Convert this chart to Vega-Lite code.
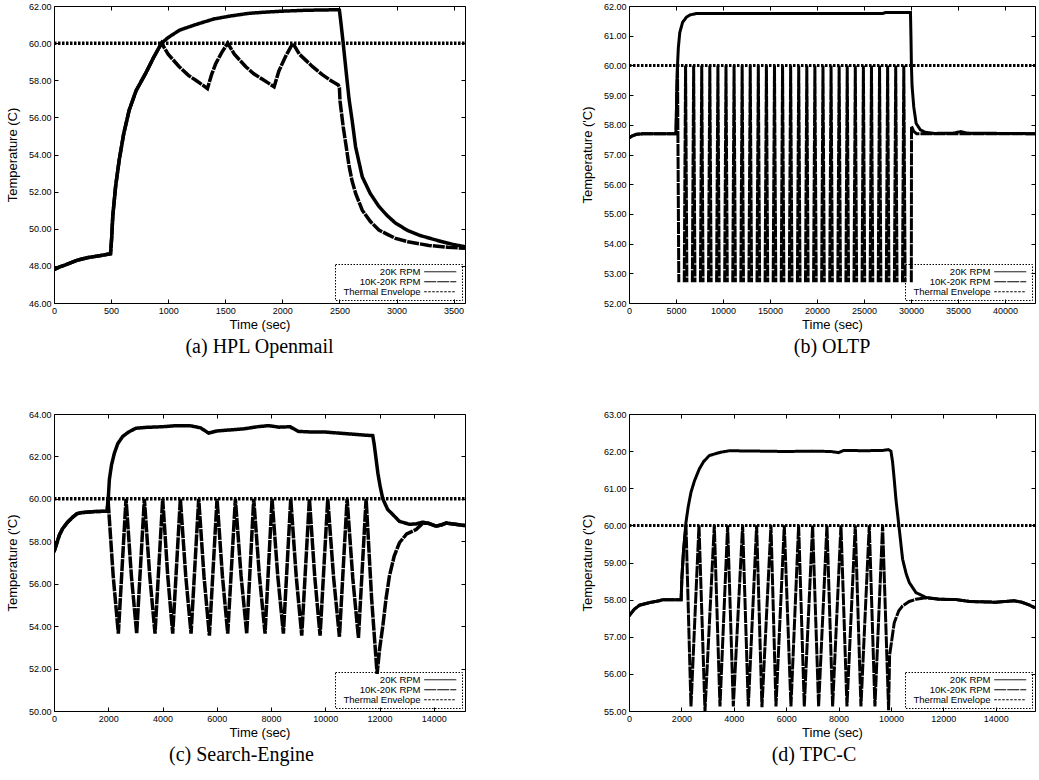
{
"$schema": "https://vega.github.io/schema/vega-lite/v6.json",
"background": "white",
"padding": {"left": 5, "top": 1, "right": 0, "bottom": 0},
"columns": 2,
"spacing": {"row": 111, "column": 164},
"bounds": "flush",
"resolve": {"scale": {"strokeDash": "independent"}, "legend": {"strokeDash": "independent"}},
"config": {
  "view": {"stroke": "black", "strokeWidth": 1},
  "font": "Liberation Sans",
  "axis": {"labelFont": "Liberation Sans", "labelFontSize": 9, "labelColor": "black", "titleFont": "Liberation Sans", "titleFontSize": 13, "titleFontWeight": "normal", "titleColor": "black", "grid": false, "domain": false, "ticks": true, "tickColor": "black", "tickSize": -4, "tickWidth": 1, "labelPadding": 7, "labelFlush": false, "labelOverlap": false},
  "axisX": {"titlePadding": 3},
  "axisY": {"titlePadding": 9},
  "legend": {"orient": "bottom-right", "offset": 3, "labelFont": "Liberation Sans", "labelFontSize": 9.5, "labelColor": "black", "labelAlign": "right", "labelOffset": -24.5, "symbolOffset": 97.5, "symbolStrokeWidth": 1, "symbolStrokeColor": "black", "rowPadding": -2, "strokeColor": "black", "strokeDash": [1.5, 1.5], "padding": 3},
  "title": {"font": "Liberation Serif", "fontSize": 20, "fontWeight": "normal", "orient": "bottom", "color": "black", "offset": 6}
},
"datasets": {
"a": [
{"t":0,"v":47.8,"s":"20K RPM"},{"t":50,"v":47.95,"s":"20K RPM"},{"t":100,"v":48.05,"s":"20K RPM"},{"t":200,"v":48.3,"s":"20K RPM"},{"t":300,"v":48.45,"s":"20K RPM"},{"t":400,"v":48.55,"s":"20K RPM"},{"t":495,"v":48.65,"s":"20K RPM"},{"t":505,"v":49.5,"s":"20K RPM"},{"t":515,"v":50.7,"s":"20K RPM"},{"t":540,"v":52.3,"s":"20K RPM"},{"t":571,"v":53.7,"s":"20K RPM"},{"t":610,"v":55.1,"s":"20K RPM"},{"t":659,"v":56.4,"s":"20K RPM"},{"t":720,"v":57.45,"s":"20K RPM"},{"t":805,"v":58.4,"s":"20K RPM"},{"t":870,"v":59.2,"s":"20K RPM"},{"t":942,"v":60.0,"s":"20K RPM"},{"t":1000,"v":60.3,"s":"20K RPM"},{"t":1100,"v":60.7,"s":"20K RPM"},{"t":1242,"v":61.0,"s":"20K RPM"},{"t":1400,"v":61.3,"s":"20K RPM"},{"t":1534,"v":61.45,"s":"20K RPM"},{"t":1700,"v":61.6,"s":"20K RPM"},{"t":1826,"v":61.66,"s":"20K RPM"},{"t":2000,"v":61.72,"s":"20K RPM"},{"t":2200,"v":61.77,"s":"20K RPM"},{"t":2490,"v":61.8,"s":"20K RPM"},{"t":2500,"v":61.78,"s":"20K RPM"},{"t":2515,"v":61.0,"s":"20K RPM"},{"t":2533,"v":60.0,"s":"20K RPM"},{"t":2560,"v":58.4,"s":"20K RPM"},{"t":2584,"v":57.0,"s":"20K RPM"},{"t":2610,"v":55.9,"s":"20K RPM"},{"t":2642,"v":54.4,"s":"20K RPM"},{"t":2700,"v":52.8,"s":"20K RPM"},{"t":2770,"v":51.9,"s":"20K RPM"},{"t":2846,"v":51.2,"s":"20K RPM"},{"t":2920,"v":50.7,"s":"20K RPM"},{"t":2992,"v":50.3,"s":"20K RPM"},{"t":3100,"v":49.9,"s":"20K RPM"},{"t":3200,"v":49.65,"s":"20K RPM"},{"t":3284,"v":49.5,"s":"20K RPM"},{"t":3400,"v":49.3,"s":"20K RPM"},{"t":3500,"v":49.15,"s":"20K RPM"},{"t":3600,"v":49.03,"s":"20K RPM"},
{"t":0,"v":47.8,"s":"10K-20K RPM"},{"t":50,"v":47.95,"s":"10K-20K RPM"},{"t":100,"v":48.05,"s":"10K-20K RPM"},{"t":200,"v":48.3,"s":"10K-20K RPM"},{"t":300,"v":48.45,"s":"10K-20K RPM"},{"t":400,"v":48.55,"s":"10K-20K RPM"},{"t":495,"v":48.65,"s":"10K-20K RPM"},{"t":505,"v":49.5,"s":"10K-20K RPM"},{"t":515,"v":50.7,"s":"10K-20K RPM"},{"t":540,"v":52.3,"s":"10K-20K RPM"},{"t":571,"v":53.7,"s":"10K-20K RPM"},{"t":610,"v":55.1,"s":"10K-20K RPM"},{"t":659,"v":56.4,"s":"10K-20K RPM"},{"t":720,"v":57.45,"s":"10K-20K RPM"},{"t":805,"v":58.4,"s":"10K-20K RPM"},{"t":870,"v":59.2,"s":"10K-20K RPM"},{"t":942,"v":60.0,"s":"10K-20K RPM"},{"t":1000,"v":59.4,"s":"10K-20K RPM"},{"t":1097,"v":58.73,"s":"10K-20K RPM"},{"t":1180,"v":58.25,"s":"10K-20K RPM"},{"t":1242,"v":58.0,"s":"10K-20K RPM"},{"t":1300,"v":57.75,"s":"10K-20K RPM"},{"t":1344,"v":57.55,"s":"10K-20K RPM"},{"t":1380,"v":58.3,"s":"10K-20K RPM"},{"t":1417,"v":58.9,"s":"10K-20K RPM"},{"t":1470,"v":59.5,"s":"10K-20K RPM"},{"t":1522,"v":60.0,"s":"10K-20K RPM"},{"t":1580,"v":59.4,"s":"10K-20K RPM"},{"t":1680,"v":58.73,"s":"10K-20K RPM"},{"t":1750,"v":58.35,"s":"10K-20K RPM"},{"t":1826,"v":58.05,"s":"10K-20K RPM"},{"t":1928,"v":57.65,"s":"10K-20K RPM"},{"t":1970,"v":58.5,"s":"10K-20K RPM"},{"t":2030,"v":59.3,"s":"10K-20K RPM"},{"t":2092,"v":60.0,"s":"10K-20K RPM"},{"t":2150,"v":59.4,"s":"10K-20K RPM"},{"t":2265,"v":58.73,"s":"10K-20K RPM"},{"t":2350,"v":58.3,"s":"10K-20K RPM"},{"t":2420,"v":58.0,"s":"10K-20K RPM"},{"t":2490,"v":57.75,"s":"10K-20K RPM"},{"t":2500,"v":57.6,"s":"10K-20K RPM"},{"t":2505,"v":56.9,"s":"10K-20K RPM"},{"t":2533,"v":55.5,"s":"10K-20K RPM"},{"t":2560,"v":54.4,"s":"10K-20K RPM"},{"t":2584,"v":53.4,"s":"10K-20K RPM"},{"t":2610,"v":52.6,"s":"10K-20K RPM"},{"t":2642,"v":51.9,"s":"10K-20K RPM"},{"t":2700,"v":51.0,"s":"10K-20K RPM"},{"t":2770,"v":50.4,"s":"10K-20K RPM"},{"t":2846,"v":49.93,"s":"10K-20K RPM"},{"t":2920,"v":49.7,"s":"10K-20K RPM"},{"t":2992,"v":49.48,"s":"10K-20K RPM"},{"t":3100,"v":49.3,"s":"10K-20K RPM"},{"t":3284,"v":49.1,"s":"10K-20K RPM"},{"t":3450,"v":49.0,"s":"10K-20K RPM"},{"t":3600,"v":48.95,"s":"10K-20K RPM"},
{"t":0,"v":60,"s":"Thermal Envelope"},{"t":3600,"v":60,"s":"Thermal Envelope"}
],
"b": [
{"t":0,"v":57.55,"s":"20K RPM"},{"t":300,"v":57.62,"s":"20K RPM"},{"t":800,"v":57.68,"s":"20K RPM"},{"t":1500,"v":57.7,"s":"20K RPM"},{"t":5000,"v":57.7,"s":"20K RPM"},{"t":5050,"v":58.5,"s":"20K RPM"},{"t":5110,"v":59.4,"s":"20K RPM"},{"t":5160,"v":60.0,"s":"20K RPM"},{"t":5250,"v":60.6,"s":"20K RPM"},{"t":5400,"v":61.1,"s":"20K RPM"},{"t":5700,"v":61.45,"s":"20K RPM"},{"t":6100,"v":61.62,"s":"20K RPM"},{"t":6500,"v":61.7,"s":"20K RPM"},{"t":7200,"v":61.75,"s":"20K RPM"},{"t":27000,"v":61.75,"s":"20K RPM"},{"t":27300,"v":61.78,"s":"20K RPM"},{"t":29950,"v":61.78,"s":"20K RPM"},{"t":30000,"v":61.0,"s":"20K RPM"},{"t":30050,"v":60.0,"s":"20K RPM"},{"t":30120,"v":59.3,"s":"20K RPM"},{"t":30300,"v":58.6,"s":"20K RPM"},{"t":30550,"v":58.05,"s":"20K RPM"},{"t":31000,"v":57.83,"s":"20K RPM"},{"t":31500,"v":57.75,"s":"20K RPM"},{"t":32500,"v":57.71,"s":"20K RPM"},{"t":34500,"v":57.72,"s":"20K RPM"},{"t":35300,"v":57.77,"s":"20K RPM"},{"t":36000,"v":57.72,"s":"20K RPM"},{"t":43200,"v":57.7,"s":"20K RPM"},
{"t":0,"v":57.55,"s":"10K-20K RPM","g":0},{"t":300,"v":57.62,"s":"10K-20K RPM","g":0},{"t":800,"v":57.68,"s":"10K-20K RPM","g":0},{"t":1500,"v":57.7,"s":"10K-20K RPM","g":0},{"t":5000,"v":57.7,"s":"10K-20K RPM","g":0},{"t":5050,"v":58.5,"s":"10K-20K RPM","g":0},{"t":5110,"v":59.4,"s":"10K-20K RPM","g":0},{"t":5160,"v":60.0,"s":"10K-20K RPM","g":0},{"t":5300,"v":52.7,"s":"10K-20K RPM","g":0},
{"t":5880,"v":52.7,"s":"10K-20K RPM","g":1},{"t":6020,"v":60,"s":"10K-20K RPM","g":1},{"t":6160,"v":52.7,"s":"10K-20K RPM","g":1},
{"t":6740,"v":52.7,"s":"10K-20K RPM","g":2},{"t":6880,"v":60,"s":"10K-20K RPM","g":2},{"t":7020,"v":52.7,"s":"10K-20K RPM","g":2},
{"t":7600,"v":52.7,"s":"10K-20K RPM","g":3},{"t":7740,"v":60,"s":"10K-20K RPM","g":3},{"t":7880,"v":52.7,"s":"10K-20K RPM","g":3},
{"t":8460,"v":52.7,"s":"10K-20K RPM","g":4},{"t":8600,"v":60,"s":"10K-20K RPM","g":4},{"t":8740,"v":52.7,"s":"10K-20K RPM","g":4},
{"t":9320,"v":52.7,"s":"10K-20K RPM","g":5},{"t":9460,"v":60,"s":"10K-20K RPM","g":5},{"t":9600,"v":52.7,"s":"10K-20K RPM","g":5},
{"t":10180,"v":52.7,"s":"10K-20K RPM","g":6},{"t":10320,"v":60,"s":"10K-20K RPM","g":6},{"t":10460,"v":52.7,"s":"10K-20K RPM","g":6},
{"t":11040,"v":52.7,"s":"10K-20K RPM","g":7},{"t":11180,"v":60,"s":"10K-20K RPM","g":7},{"t":11320,"v":52.7,"s":"10K-20K RPM","g":7},
{"t":11900,"v":52.7,"s":"10K-20K RPM","g":8},{"t":12040,"v":60,"s":"10K-20K RPM","g":8},{"t":12180,"v":52.7,"s":"10K-20K RPM","g":8},
{"t":12760,"v":52.7,"s":"10K-20K RPM","g":9},{"t":12900,"v":60,"s":"10K-20K RPM","g":9},{"t":13040,"v":52.7,"s":"10K-20K RPM","g":9},
{"t":13620,"v":52.7,"s":"10K-20K RPM","g":10},{"t":13760,"v":60,"s":"10K-20K RPM","g":10},{"t":13900,"v":52.7,"s":"10K-20K RPM","g":10},
{"t":14480,"v":52.7,"s":"10K-20K RPM","g":11},{"t":14620,"v":60,"s":"10K-20K RPM","g":11},{"t":14760,"v":52.7,"s":"10K-20K RPM","g":11},
{"t":15340,"v":52.7,"s":"10K-20K RPM","g":12},{"t":15480,"v":60,"s":"10K-20K RPM","g":12},{"t":15620,"v":52.7,"s":"10K-20K RPM","g":12},
{"t":16200,"v":52.7,"s":"10K-20K RPM","g":13},{"t":16340,"v":60,"s":"10K-20K RPM","g":13},{"t":16480,"v":52.7,"s":"10K-20K RPM","g":13},
{"t":17060,"v":52.7,"s":"10K-20K RPM","g":14},{"t":17200,"v":60,"s":"10K-20K RPM","g":14},{"t":17340,"v":52.7,"s":"10K-20K RPM","g":14},
{"t":17920,"v":52.7,"s":"10K-20K RPM","g":15},{"t":18060,"v":60,"s":"10K-20K RPM","g":15},{"t":18200,"v":52.7,"s":"10K-20K RPM","g":15},
{"t":18780,"v":52.7,"s":"10K-20K RPM","g":16},{"t":18920,"v":60,"s":"10K-20K RPM","g":16},{"t":19060,"v":52.7,"s":"10K-20K RPM","g":16},
{"t":19640,"v":52.7,"s":"10K-20K RPM","g":17},{"t":19780,"v":60,"s":"10K-20K RPM","g":17},{"t":19920,"v":52.7,"s":"10K-20K RPM","g":17},
{"t":20500,"v":52.7,"s":"10K-20K RPM","g":18},{"t":20640,"v":60,"s":"10K-20K RPM","g":18},{"t":20780,"v":52.7,"s":"10K-20K RPM","g":18},
{"t":21360,"v":52.7,"s":"10K-20K RPM","g":19},{"t":21500,"v":60,"s":"10K-20K RPM","g":19},{"t":21640,"v":52.7,"s":"10K-20K RPM","g":19},
{"t":22220,"v":52.7,"s":"10K-20K RPM","g":20},{"t":22360,"v":60,"s":"10K-20K RPM","g":20},{"t":22500,"v":52.7,"s":"10K-20K RPM","g":20},
{"t":23080,"v":52.7,"s":"10K-20K RPM","g":21},{"t":23220,"v":60,"s":"10K-20K RPM","g":21},{"t":23360,"v":52.7,"s":"10K-20K RPM","g":21},
{"t":23940,"v":52.7,"s":"10K-20K RPM","g":22},{"t":24080,"v":60,"s":"10K-20K RPM","g":22},{"t":24220,"v":52.7,"s":"10K-20K RPM","g":22},
{"t":24800,"v":52.7,"s":"10K-20K RPM","g":23},{"t":24940,"v":60,"s":"10K-20K RPM","g":23},{"t":25080,"v":52.7,"s":"10K-20K RPM","g":23},
{"t":25660,"v":52.7,"s":"10K-20K RPM","g":24},{"t":25800,"v":60,"s":"10K-20K RPM","g":24},{"t":25940,"v":52.7,"s":"10K-20K RPM","g":24},
{"t":26520,"v":52.7,"s":"10K-20K RPM","g":25},{"t":26660,"v":60,"s":"10K-20K RPM","g":25},{"t":26800,"v":52.7,"s":"10K-20K RPM","g":25},
{"t":27380,"v":52.7,"s":"10K-20K RPM","g":26},{"t":27520,"v":60,"s":"10K-20K RPM","g":26},{"t":27660,"v":52.7,"s":"10K-20K RPM","g":26},
{"t":28240,"v":52.7,"s":"10K-20K RPM","g":27},{"t":28380,"v":60,"s":"10K-20K RPM","g":27},{"t":28520,"v":52.7,"s":"10K-20K RPM","g":27},
{"t":29100,"v":52.7,"s":"10K-20K RPM","g":28},{"t":29240,"v":60,"s":"10K-20K RPM","g":28},{"t":29380,"v":52.7,"s":"10K-20K RPM","g":28},
{"t":30040,"v":52.7,"s":"10K-20K RPM","g":29},{"t":30060,"v":57.95,"s":"10K-20K RPM","g":29},{"t":30300,"v":57.78,"s":"10K-20K RPM","g":29},{"t":30600,"v":57.7,"s":"10K-20K RPM","g":29},{"t":43200,"v":57.7,"s":"10K-20K RPM","g":29},
{"t":0,"v":60,"s":"Thermal Envelope"},{"t":43200,"v":60,"s":"Thermal Envelope"}
],
"c": [
{"t":0,"v":57.5,"s":"20K RPM"},{"t":100,"v":57.9,"s":"20K RPM"},{"t":200,"v":58.3,"s":"20K RPM"},{"t":320,"v":58.6,"s":"20K RPM"},{"t":500,"v":58.9,"s":"20K RPM"},{"t":700,"v":59.15,"s":"20K RPM"},{"t":850,"v":59.3,"s":"20K RPM"},{"t":1000,"v":59.35,"s":"20K RPM"},{"t":1500,"v":59.4,"s":"20K RPM"},{"t":1960,"v":59.42,"s":"20K RPM"},{"t":2000,"v":60.0,"s":"20K RPM"},{"t":2040,"v":60.9,"s":"20K RPM"},{"t":2120,"v":61.6,"s":"20K RPM"},{"t":2225,"v":62.15,"s":"20K RPM"},{"t":2350,"v":62.6,"s":"20K RPM"},{"t":2530,"v":62.94,"s":"20K RPM"},{"t":2750,"v":63.15,"s":"20K RPM"},{"t":3020,"v":63.33,"s":"20K RPM"},{"t":3400,"v":63.37,"s":"20K RPM"},{"t":4000,"v":63.4,"s":"20K RPM"},{"t":4500,"v":63.45,"s":"20K RPM"},{"t":5000,"v":63.45,"s":"20K RPM"},{"t":5400,"v":63.35,"s":"20K RPM"},{"t":5700,"v":63.1,"s":"20K RPM"},{"t":6000,"v":63.2,"s":"20K RPM"},{"t":6500,"v":63.25,"s":"20K RPM"},{"t":7000,"v":63.3,"s":"20K RPM"},{"t":7500,"v":63.4,"s":"20K RPM"},{"t":7900,"v":63.45,"s":"20K RPM"},{"t":8300,"v":63.38,"s":"20K RPM"},{"t":8700,"v":63.4,"s":"20K RPM"},{"t":9000,"v":63.18,"s":"20K RPM"},{"t":9500,"v":63.15,"s":"20K RPM"},{"t":10000,"v":63.15,"s":"20K RPM"},{"t":10500,"v":63.1,"s":"20K RPM"},{"t":11000,"v":63.05,"s":"20K RPM"},{"t":11500,"v":63.0,"s":"20K RPM"},{"t":11750,"v":62.98,"s":"20K RPM"},{"t":11800,"v":62.6,"s":"20K RPM"},{"t":11860,"v":62.0,"s":"20K RPM"},{"t":11940,"v":61.2,"s":"20K RPM"},{"t":12020,"v":60.6,"s":"20K RPM"},{"t":12120,"v":60.0,"s":"20K RPM"},{"t":12300,"v":59.5,"s":"20K RPM"},{"t":12488,"v":59.26,"s":"20K RPM"},{"t":12733,"v":58.94,"s":"20K RPM"},{"t":13100,"v":58.8,"s":"20K RPM"},{"t":13350,"v":58.82,"s":"20K RPM"},{"t":13594,"v":58.9,"s":"20K RPM"},{"t":13800,"v":58.85,"s":"20K RPM"},{"t":14085,"v":58.71,"s":"20K RPM"},{"t":14300,"v":58.78,"s":"20K RPM"},{"t":14454,"v":58.86,"s":"20K RPM"},{"t":14800,"v":58.8,"s":"20K RPM"},{"t":15150,"v":58.74,"s":"20K RPM"},
{"t":0,"v":57.5,"s":"10K-20K RPM"},{"t":100,"v":57.9,"s":"10K-20K RPM"},{"t":200,"v":58.3,"s":"10K-20K RPM"},{"t":320,"v":58.6,"s":"10K-20K RPM"},{"t":500,"v":58.9,"s":"10K-20K RPM"},{"t":700,"v":59.15,"s":"10K-20K RPM"},{"t":850,"v":59.3,"s":"10K-20K RPM"},{"t":1000,"v":59.35,"s":"10K-20K RPM"},{"t":1500,"v":59.4,"s":"10K-20K RPM"},{"t":1960,"v":59.42,"s":"10K-20K RPM"},{"t":1990,"v":60.0,"s":"10K-20K RPM"},
{"t":2181,"v":56.38,"s":"10K-20K RPM"},{"t":2372,"v":53.65,"s":"10K-20K RPM"},{"t":2655,"v":60,"s":"10K-20K RPM"},
{"t":2852,"v":56.38,"s":"10K-20K RPM"},{"t":3048,"v":53.65,"s":"10K-20K RPM"},{"t":3331,"v":60,"s":"10K-20K RPM"},
{"t":3528,"v":56.38,"s":"10K-20K RPM"},{"t":3724,"v":53.65,"s":"10K-20K RPM"},{"t":4007,"v":60,"s":"10K-20K RPM"},
{"t":4192,"v":56.38,"s":"10K-20K RPM"},{"t":4376,"v":53.65,"s":"10K-20K RPM"},{"t":4658,"v":60,"s":"10K-20K RPM"},
{"t":4855,"v":56.38,"s":"10K-20K RPM"},{"t":5052,"v":53.65,"s":"10K-20K RPM"},{"t":5334,"v":60,"s":"10K-20K RPM"},
{"t":5531,"v":56.32,"s":"10K-20K RPM"},{"t":5728,"v":53.55,"s":"10K-20K RPM"},{"t":6010,"v":60,"s":"10K-20K RPM"},
{"t":6207,"v":56.38,"s":"10K-20K RPM"},{"t":6404,"v":53.65,"s":"10K-20K RPM"},{"t":6686,"v":60,"s":"10K-20K RPM"},
{"t":6895,"v":56.38,"s":"10K-20K RPM"},{"t":7104,"v":53.65,"s":"10K-20K RPM"},{"t":7362,"v":60,"s":"10K-20K RPM"},
{"t":7571,"v":56.38,"s":"10K-20K RPM"},{"t":7780,"v":53.65,"s":"10K-20K RPM"},{"t":8038,"v":60,"s":"10K-20K RPM"},
{"t":8247,"v":56.38,"s":"10K-20K RPM"},{"t":8456,"v":53.65,"s":"10K-20K RPM"},{"t":8727,"v":60,"s":"10K-20K RPM"},
{"t":8930,"v":56.32,"s":"10K-20K RPM"},{"t":9132,"v":53.55,"s":"10K-20K RPM"},{"t":9415,"v":60,"s":"10K-20K RPM"},
{"t":9612,"v":56.32,"s":"10K-20K RPM"},{"t":9808,"v":53.55,"s":"10K-20K RPM"},{"t":10091,"v":60,"s":"10K-20K RPM"},
{"t":10306,"v":56.3,"s":"10K-20K RPM"},{"t":10521,"v":53.5,"s":"10K-20K RPM"},{"t":10804,"v":60,"s":"10K-20K RPM"},
{"t":11013,"v":56.27,"s":"10K-20K RPM"},{"t":11222,"v":53.45,"s":"10K-20K RPM"},{"t":11505,"v":60,"s":"10K-20K RPM"},
{"t":11708,"v":55.3,"s":"10K-20K RPM"},{"t":11910,"v":51.75,"s":"10K-20K RPM"},
{"t":12000,"v":52.9,"s":"10K-20K RPM"},{"t":12120,"v":54.0,"s":"10K-20K RPM"},{"t":12240,"v":55.3,"s":"10K-20K RPM"},{"t":12364,"v":56.36,"s":"10K-20K RPM"},{"t":12540,"v":57.3,"s":"10K-20K RPM"},{"t":12733,"v":57.93,"s":"10K-20K RPM"},{"t":13000,"v":58.35,"s":"10K-20K RPM"},{"t":13348,"v":58.55,"s":"10K-20K RPM"},{"t":13594,"v":58.85,"s":"10K-20K RPM"},{"t":13800,"v":58.85,"s":"10K-20K RPM"},{"t":14085,"v":58.71,"s":"10K-20K RPM"},{"t":14300,"v":58.78,"s":"10K-20K RPM"},{"t":14454,"v":58.86,"s":"10K-20K RPM"},{"t":14800,"v":58.8,"s":"10K-20K RPM"},{"t":15150,"v":58.74,"s":"10K-20K RPM"},
{"t":0,"v":60,"s":"Thermal Envelope"},{"t":15150,"v":60,"s":"Thermal Envelope"}
],
"d": [
{"t":0,"v":57.56,"s":"20K RPM"},{"t":100,"v":57.65,"s":"20K RPM"},{"t":200,"v":57.74,"s":"20K RPM"},{"t":400,"v":57.85,"s":"20K RPM"},{"t":776,"v":57.92,"s":"20K RPM"},{"t":1158,"v":57.97,"s":"20K RPM"},{"t":1300,"v":58.0,"s":"20K RPM"},{"t":1990,"v":58.0,"s":"20K RPM"},{"t":2020,"v":58.6,"s":"20K RPM"},{"t":2080,"v":59.3,"s":"20K RPM"},{"t":2175,"v":60.08,"s":"20K RPM"},{"t":2260,"v":60.5,"s":"20K RPM"},{"t":2366,"v":60.89,"s":"20K RPM"},{"t":2500,"v":61.2,"s":"20K RPM"},{"t":2684,"v":61.52,"s":"20K RPM"},{"t":2850,"v":61.72,"s":"20K RPM"},{"t":3066,"v":61.88,"s":"20K RPM"},{"t":3300,"v":61.93,"s":"20K RPM"},{"t":3500,"v":61.97,"s":"20K RPM"},{"t":3830,"v":62.01,"s":"20K RPM"},{"t":5000,"v":62.0,"s":"20K RPM"},{"t":6000,"v":61.99,"s":"20K RPM"},{"t":7000,"v":62.0,"s":"20K RPM"},{"t":7700,"v":61.99,"s":"20K RPM"},{"t":8000,"v":61.96,"s":"20K RPM"},{"t":8200,"v":62.02,"s":"20K RPM"},{"t":9000,"v":62.01,"s":"20K RPM"},{"t":9700,"v":62.02,"s":"20K RPM"},{"t":9900,"v":62.04,"s":"20K RPM"},{"t":10000,"v":62.0,"s":"20K RPM"},{"t":10064,"v":61.7,"s":"20K RPM"},{"t":10130,"v":61.2,"s":"20K RPM"},{"t":10190,"v":60.71,"s":"20K RPM"},{"t":10318,"v":59.9,"s":"20K RPM"},{"t":10445,"v":59.09,"s":"20K RPM"},{"t":10580,"v":58.7,"s":"20K RPM"},{"t":10700,"v":58.46,"s":"20K RPM"},{"t":10954,"v":58.19,"s":"20K RPM"},{"t":11336,"v":58.06,"s":"20K RPM"},{"t":11845,"v":58.01,"s":"20K RPM"},{"t":12500,"v":58.0,"s":"20K RPM"},{"t":13000,"v":57.95,"s":"20K RPM"},{"t":14000,"v":57.93,"s":"20K RPM"},{"t":14700,"v":57.97,"s":"20K RPM"},{"t":15000,"v":57.93,"s":"20K RPM"},{"t":15300,"v":57.85,"s":"20K RPM"},{"t":15500,"v":57.78,"s":"20K RPM"},
{"t":0,"v":57.56,"s":"10K-20K RPM"},{"t":100,"v":57.65,"s":"10K-20K RPM"},{"t":200,"v":57.74,"s":"10K-20K RPM"},{"t":400,"v":57.85,"s":"10K-20K RPM"},{"t":776,"v":57.92,"s":"10K-20K RPM"},{"t":1158,"v":57.97,"s":"10K-20K RPM"},{"t":1300,"v":58.0,"s":"10K-20K RPM"},{"t":1990,"v":58.0,"s":"10K-20K RPM"},{"t":2020,"v":58.6,"s":"10K-20K RPM"},{"t":2080,"v":59.3,"s":"10K-20K RPM"},{"t":2176,"v":60.0,"s":"10K-20K RPM"},
{"t":2366,"v":55.12,"s":"10K-20K RPM"},{"t":2672,"v":60,"s":"10K-20K RPM"},{"t":2901,"v":55.0,"s":"10K-20K RPM"},{"t":3257,"v":60,"s":"10K-20K RPM"},{"t":3473,"v":55.12,"s":"10K-20K RPM"},{"t":3766,"v":60,"s":"10K-20K RPM"},{"t":3982,"v":55.12,"s":"10K-20K RPM"},{"t":4338,"v":60,"s":"10K-20K RPM"},{"t":4555,"v":55.12,"s":"10K-20K RPM"},{"t":4873,"v":60,"s":"10K-20K RPM"},{"t":5076,"v":55.1,"s":"10K-20K RPM"},{"t":5420,"v":60,"s":"10K-20K RPM"},{"t":5611,"v":55.12,"s":"10K-20K RPM"},{"t":5929,"v":60,"s":"10K-20K RPM"},{"t":6183,"v":55.12,"s":"10K-20K RPM"},{"t":6476,"v":60,"s":"10K-20K RPM"},{"t":6692,"v":55.12,"s":"10K-20K RPM"},{"t":7010,"v":60,"s":"10K-20K RPM"},{"t":7239,"v":55.12,"s":"10K-20K RPM"},{"t":7557,"v":60,"s":"10K-20K RPM"},{"t":7774,"v":55.12,"s":"10K-20K RPM"},{"t":8092,"v":60,"s":"10K-20K RPM"},{"t":8321,"v":55.12,"s":"10K-20K RPM"},{"t":8639,"v":60,"s":"10K-20K RPM"},{"t":8855,"v":55.12,"s":"10K-20K RPM"},{"t":9173,"v":60,"s":"10K-20K RPM"},{"t":9389,"v":55.12,"s":"10K-20K RPM"},{"t":9682,"v":60,"s":"10K-20K RPM"},{"t":9911,"v":55.02,"s":"10K-20K RPM"},
{"t":9950,"v":56.5,"s":"10K-20K RPM"},{"t":10050,"v":57.0,"s":"10K-20K RPM"},{"t":10127,"v":57.38,"s":"10K-20K RPM"},{"t":10300,"v":57.7,"s":"10K-20K RPM"},{"t":10445,"v":57.83,"s":"10K-20K RPM"},{"t":10700,"v":57.95,"s":"10K-20K RPM"},{"t":10954,"v":58.01,"s":"10K-20K RPM"},{"t":11336,"v":58.05,"s":"10K-20K RPM"},{"t":11845,"v":58.01,"s":"10K-20K RPM"},{"t":12500,"v":58.0,"s":"10K-20K RPM"},{"t":13000,"v":57.95,"s":"10K-20K RPM"},{"t":14000,"v":57.93,"s":"10K-20K RPM"},{"t":14700,"v":57.97,"s":"10K-20K RPM"},{"t":15000,"v":57.93,"s":"10K-20K RPM"},{"t":15300,"v":57.85,"s":"10K-20K RPM"},{"t":15500,"v":57.78,"s":"10K-20K RPM"},
{"t":0,"v":60,"s":"Thermal Envelope"},{"t":15500,"v":60,"s":"Thermal Envelope"}
]
},
"concat": [
{
 "data": {"name": "a"}, "width": 411, "height": 297,
 "title": {"text": "(a) HPL Openmail"},
 "layer": [
  {"mark": {"type": "line", "color": "black", "strokeWidth": 3.5, "clip": true},
   "encoding": {
    "x": {"field": "t", "type": "quantitative", "scale": {"domain": [0, 3600], "nice": false, "zero": false}, "axis": {"title": "Time (sec)", "values": [0,500,1000,1500,2000,2500,3000,3500], "format": "d"}},
    "y": {"field": "v", "type": "quantitative", "scale": {"domain": [46, 62], "nice": false, "zero": false}, "axis": {"title": "Temperature (C)", "values": [46,48,50,52,54,56,58,60,62], "format": ".2f"}},
    "strokeDash": {"field": "s", "type": "nominal", "scale": {"domain": ["20K RPM", "10K-20K RPM", "Thermal Envelope"], "range": [[1,0],[12,1],[2.5,1.5]]}, "legend": {"title": null, "symbolType": "M-5.33,0H5.33", "symbolSize": 36, "symbolStrokeWidth": 1}},
    "detail": {"field": "g", "type": "nominal"}
   }},
  {"mark": {"type": "point", "opacity": 0},
   "encoding": {
    "x": {"field": "t", "type": "quantitative", "axis": {"orient": "top", "labels": false, "title": null, "values": [0,500,1000,1500,2000,2500,3000,3500]}},
    "y": {"field": "v", "type": "quantitative", "axis": {"orient": "right", "labels": false, "title": null, "values": [46,48,50,52,54,56,58,60,62]}}
   }}
 ],
 "resolve": {"axis": {"x": "independent", "y": "independent"}}
},
{
 "data": {"name": "b"}, "width": 406, "height": 297,
 "title": {"text": "(b) OLTP"},
 "layer": [
  {"mark": {"type": "line", "color": "black", "strokeWidth": 3, "clip": true},
   "encoding": {
    "x": {"field": "t", "type": "quantitative", "scale": {"domain": [0, 43200], "nice": false, "zero": false}, "axis": {"title": "Time (sec)", "values": [0,5000,10000,15000,20000,25000,30000,35000,40000], "format": "d"}},
    "y": {"field": "v", "type": "quantitative", "scale": {"domain": [52, 62], "nice": false, "zero": false}, "axis": {"title": "Temperature ('C)", "values": [52,53,54,55,56,57,58,59,60,61,62], "format": ".2f"}},
    "strokeDash": {"field": "s", "type": "nominal", "scale": {"domain": ["20K RPM", "10K-20K RPM", "Thermal Envelope"], "range": [[1,0],[12,1],[2.5,1.5]]}, "legend": {"title": null, "symbolType": "M-5.33,0H5.33", "symbolSize": 36, "symbolStrokeWidth": 1}},
    "detail": {"field": "g", "type": "nominal"}
   }},
  {"mark": {"type": "point", "opacity": 0},
   "encoding": {
    "x": {"field": "t", "type": "quantitative", "axis": {"orient": "top", "labels": false, "title": null, "values": [0,5000,10000,15000,20000,25000,30000,35000,40000]}},
    "y": {"field": "v", "type": "quantitative", "axis": {"orient": "right", "labels": false, "title": null, "values": [52,53,54,55,56,57,58,59,60,61,62]}}
   }}
 ],
 "resolve": {"axis": {"x": "independent", "y": "independent"}}
},
{
 "data": {"name": "c"}, "width": 411, "height": 297,
 "title": {"text": "(c) Search-Engine", "dx": -18},
 "layer": [
  {"mark": {"type": "line", "color": "black", "strokeWidth": 3.5, "clip": true},
   "encoding": {
    "x": {"field": "t", "type": "quantitative", "scale": {"domain": [0, 15150], "nice": false, "zero": false}, "axis": {"title": "Time (sec)", "values": [0,2000,4000,6000,8000,10000,12000,14000], "format": "d"}},
    "y": {"field": "v", "type": "quantitative", "scale": {"domain": [50, 64], "nice": false, "zero": false}, "axis": {"title": "Temperature ('C)", "values": [50,52,54,56,58,60,62,64], "format": ".2f"}},
    "strokeDash": {"field": "s", "type": "nominal", "scale": {"domain": ["20K RPM", "10K-20K RPM", "Thermal Envelope"], "range": [[1,0],[12,1],[2.5,1.5]]}, "legend": {"title": null, "symbolType": "M-5.33,0H5.33", "symbolSize": 36, "symbolStrokeWidth": 1}},
    "detail": {"field": "g", "type": "nominal"}
   }},
  {"mark": {"type": "point", "opacity": 0},
   "encoding": {
    "x": {"field": "t", "type": "quantitative", "axis": {"orient": "top", "labels": false, "title": null, "values": [0,2000,4000,6000,8000,10000,12000,14000]}},
    "y": {"field": "v", "type": "quantitative", "axis": {"orient": "right", "labels": false, "title": null, "values": [50,52,54,56,58,60,62,64]}}
   }}
 ],
 "resolve": {"axis": {"x": "independent", "y": "independent"}}
},
{
 "data": {"name": "d"}, "width": 406, "height": 297,
 "title": {"text": "(d) TPC-C", "dx": -18},
 "layer": [
  {"mark": {"type": "line", "color": "black", "strokeWidth": 3, "clip": true},
   "encoding": {
    "x": {"field": "t", "type": "quantitative", "scale": {"domain": [0, 15500], "nice": false, "zero": false}, "axis": {"title": "Time (sec)", "values": [0,2000,4000,6000,8000,10000,12000,14000], "format": "d"}},
    "y": {"field": "v", "type": "quantitative", "scale": {"domain": [55, 63], "nice": false, "zero": false}, "axis": {"title": "Temperature ('C)", "values": [55,56,57,58,59,60,61,62,63], "format": ".2f"}},
    "strokeDash": {"field": "s", "type": "nominal", "scale": {"domain": ["20K RPM", "10K-20K RPM", "Thermal Envelope"], "range": [[1,0],[12,1],[2.5,1.5]]}, "legend": {"title": null, "symbolType": "M-5.33,0H5.33", "symbolSize": 36, "symbolStrokeWidth": 1}},
    "detail": {"field": "g", "type": "nominal"}
   }},
  {"mark": {"type": "point", "opacity": 0},
   "encoding": {
    "x": {"field": "t", "type": "quantitative", "axis": {"orient": "top", "labels": false, "title": null, "values": [0,2000,4000,6000,8000,10000,12000,14000]}},
    "y": {"field": "v", "type": "quantitative", "axis": {"orient": "right", "labels": false, "title": null, "values": [55,56,57,58,59,60,61,62,63]}}
   }}
 ],
 "resolve": {"axis": {"x": "independent", "y": "independent"}}
}
]
}
